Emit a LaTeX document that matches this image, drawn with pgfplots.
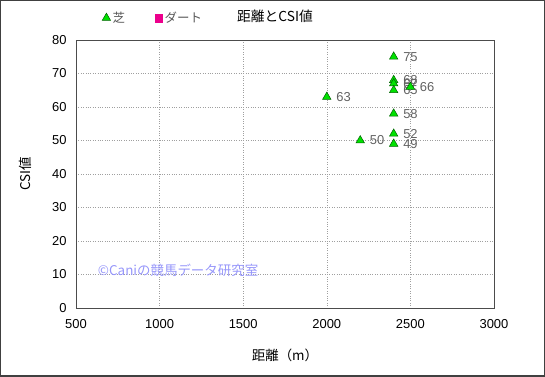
\documentclass[border=0pt]{standalone}
\usepackage{fontspec}
\setmainfont{Liberation Sans}
\newfontfamily\jp{Noto Sans CJK JP}
\usepackage{pgfplots}
\usepackage{pgfplotstable}
\pgfplotsset{compat=1.18}
\definecolor{trigreen}{RGB}{0,225,0}
\definecolor{triedge}{RGB}{0,100,0}
\definecolor{wm}{RGB}{150,150,250}
\pgfplotstableread{
x y lab
2400 75 75
2400 68 68
2400 67 67
2400 65 65
2400 58 58
2400 52 52
2400 49 49
2500 66 66
2000 63 63
2200 50 50
}\turf
\begin{document}
\begin{tikzpicture}
\begin{axis}[
  scale only axis, width=418bp, height=268bp,
  xmin=500, xmax=3000, ymin=0, ymax=80,
  xtick={500,1000,...,3000}, ytick={0,10,...,80},
  grid=major, grid style={dotted, gray!75, line width=0.5pt},
  axis line style={draw=black!70, line width=0.8pt},
  tick style={draw=none},
  tick label style={font=\fontsize{13}{15}\selectfont, text=black},
  xticklabel style={yshift=-8bp},
  yticklabel style={xshift=-6bp},
  /pgf/number format/assume math mode=true,
  /pgf/number format/1000 sep={},
  xlabel={\jp 距離（m）}, ylabel={\jp CSI値},
  label style={font=\fontsize{13.5}{15}\selectfont},
  x label style={at={(axis description cs:0.5,-0.175)}, anchor=center},
  y label style={at={(axis description cs:-0.122,0.5)}, anchor=center},
  title={\jp 距離とCSI値},
  title style={at={(axis description cs:0.476,1.067)}, anchor=center, font=\fontsize{13.8}{15}\selectfont},
  legend style={at={(axis description cs:0.055,1.082)}, anchor=west, draw=none, fill=none,
    font=\fontsize{12.5}{14}\selectfont, text=black!65, legend columns=2,
    /tikz/every even column/.append style={column sep=28bp}},
  legend cell align=left,
  clip=false,
]
\addplot[only marks, mark=triangle*, mark size=4.9bp, mark options={fill=trigreen, draw=triedge, line width=0.5pt},
  nodes near coords, point meta=explicit symbolic,
  nodes near coords style={anchor=west, xshift=6bp, font=\fontsize{13}{15}\selectfont, text=black!62}]
  table[x=x, y=y, meta=lab]{\turf};
\addlegendentry{\jp 芝}
\addlegendimage{only marks, mark=square*, mark size=3.8bp, mark options={fill=magenta, draw=magenta}}
\addlegendentry{\jp ダート}
\node[anchor=west, text=wm, font=\jp\fontsize{13.5}{15}\selectfont, inner sep=0pt] at (axis cs:630,11.3) {©Caniの競馬データ研究室};
\end{axis}
\draw[black!75, line width=1.5bp] ([xshift=-75.25bp, yshift=-68.25bp]current axis.south west) rectangle ([xshift=50.25bp, yshift=39.25bp]current axis.north east);
\end{tikzpicture}
\end{document}
